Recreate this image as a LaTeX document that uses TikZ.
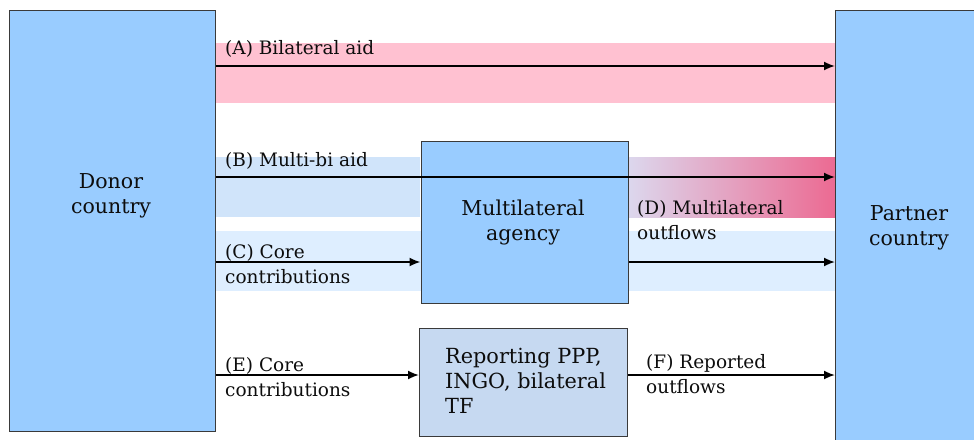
\documentclass[tikz,border=0pt]{standalone}
\usepackage{fontspec}
\setmainfont{DejaVu Serif}
\usetikzlibrary{arrows.meta}
\definecolor{boxblue}{HTML}{99CCFF}
\definecolor{repblue}{HTML}{C6D9F1}
\definecolor{boxline}{HTML}{3A3A3A}
\definecolor{bandA}{HTML}{FFC1D1}
\definecolor{bandB}{HTML}{D0E4FA}
\definecolor{bandC}{HTML}{DEEEFF}
\definecolor{gradL}{HTML}{DCD8EE}
\definecolor{gradR}{HTML}{EC6A92}
\definecolor{txt}{HTML}{0D0D0D}
\begin{document}
\begin{tikzpicture}[x=1pt,y=-1pt,
  box/.style={draw=boxline, line width=1.4pt, inner sep=0pt, anchor=north west},
  flow/.style={line width=1.8pt, -{Latex[length=11pt,width=9pt]}},
  lbl/.style={anchor=base west, inner sep=0pt, align=left, text=txt, font=\fontsize{18.5}{25}\selectfont},
  btxt/.style={anchor=base west, inner sep=0pt, align=left, text=txt, font=\fontsize{20.8}{25}\selectfont},
  ctr/.style={anchor=base, inner sep=0pt, align=center, text=txt, font=\fontsize{20.5}{25}\selectfont}]
\useasboundingbox (0,0) rectangle (974,439);
\clip (0,0) rectangle (974,439);
% bands
\fill[bandA] (215,43) rectangle (835,103);
\fill[bandB] (215,157) rectangle (420,217);
\shade[left color=gradL, right color=gradR] (627,157) rectangle (835,217);
\fill[bandC] (215,231) rectangle (835,291);
% boxes
\node[box, fill=boxblue, minimum width=206pt, minimum height=421pt] (donor) at (9,10) {};
\node[box, fill=boxblue, minimum width=150pt, minimum height=440pt] (partner) at (835,10) {};
\node[box, fill=boxblue, minimum width=207pt, minimum height=162pt] (multi) at (420.5,141) {};
\node[box, fill=repblue, minimum width=208pt, minimum height=108pt] (report) at (419,328) {};
% box texts (anchor = baseline of the last line)
\node[ctr] (tDonor) at (111,213) {Donor\\country};
\node[ctr] (tPartner) at (909,245) {Partner\\country};
\node[ctr] (tMulti) at (523,240) {Multilateral\\agency};
\node[btxt] (tR) at (445,413) {Reporting PPP,\\INGO, bilateral\\TF};
% flow labels
\node[lbl] (tA) at (225,54) {(A) Bilateral aid};
\node[lbl] (tB) at (225,166) {(B) Multi-bi aid};
\node[lbl] (tC) at (225,283) {(C) Core\\contributions};
\node[lbl] (tD) at (637,239) {(D) Multilateral\\outflows};
\node[lbl] (tE) at (225,396) {(E) Core\\contributions};
\node[lbl] (tF) at (646,393) {(F) Reported\\outflows};
% flows
\draw[flow] (donor.east |- 0,66) -- (partner.west |- 0,66);
\draw[flow] (donor.east |- 0,177) -- (partner.west |- 0,177);
\draw[flow] (donor.east |- 0,262) -- (multi.west |- 0,262);
\draw[flow] (multi.east |- 0,262) -- (partner.west |- 0,262);
\draw[flow] (donor.east |- 0,375) -- (report.west |- 0,375);
\draw[flow] (report.east |- 0,375) -- (partner.west |- 0,375);
\end{tikzpicture}
\end{document}
